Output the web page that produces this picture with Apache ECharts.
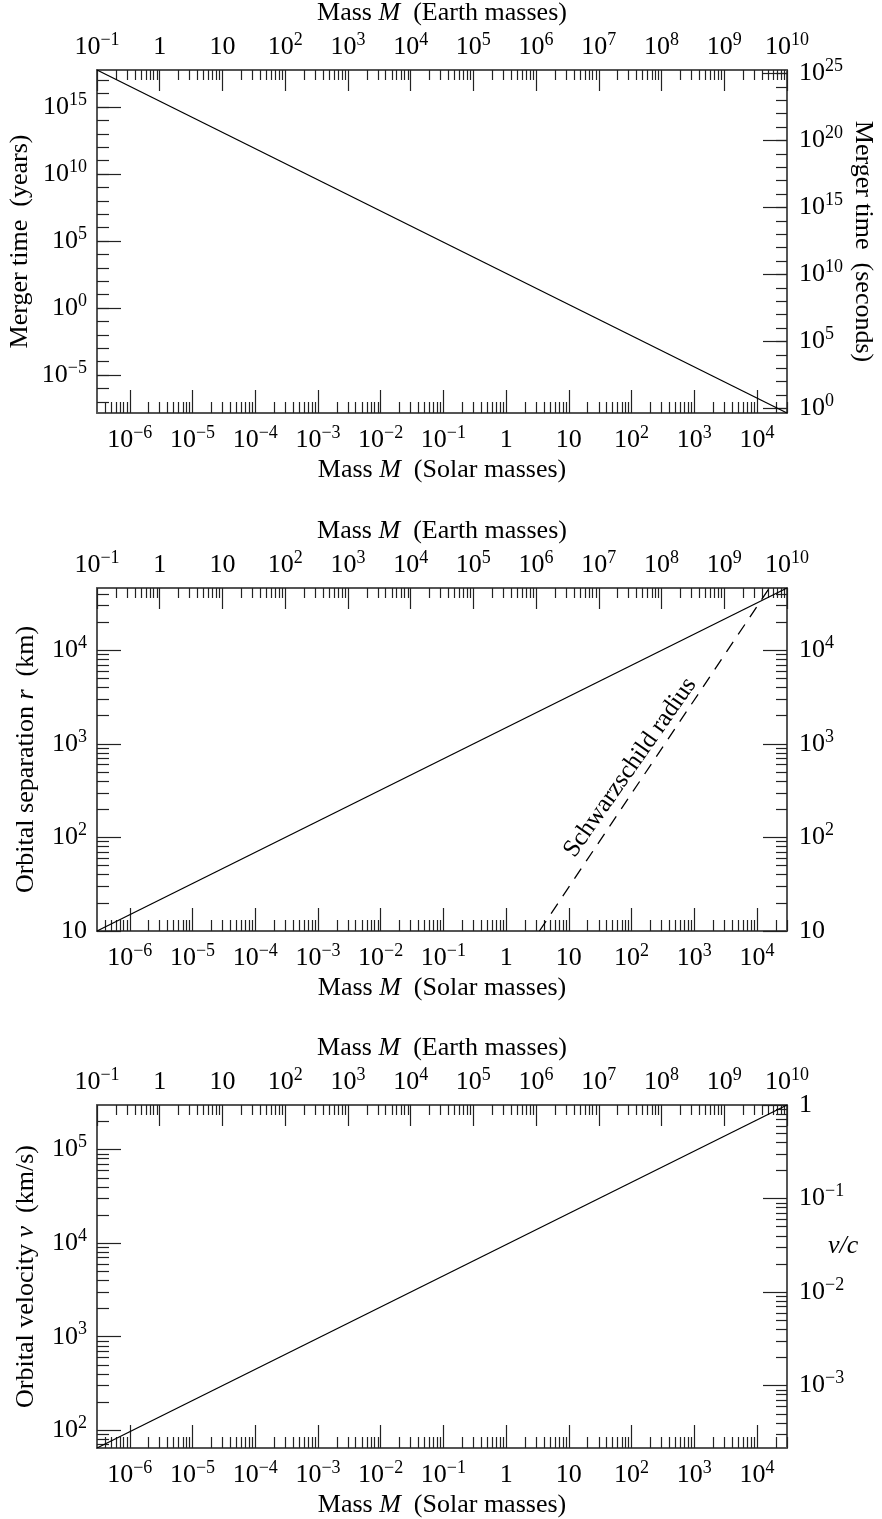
<!DOCTYPE html>
<html><head><meta charset="utf-8">
<script src="https://cdn.jsdelivr.net/npm/echarts@6/dist/echarts.min.js"></script>
<style>html,body{margin:0;padding:0;background:#fff}#c{width:882px;height:1519px}</style>
</head><body><div id="c"></div>
<script>
// ---- physical conversion constants ----
const EARTH_PER_SOLAR = 333000;
const SECONDS_PER_YEAR = 3.156e7;
const C_KM_S = 299792;

// ---- shared mass axis (Earth masses, top) ----
const massEarthRange = [0.1, 1e10];
const earthTickExp = [-1, 0, 1, 2, 3, 4, 5, 6, 7, 8, 9, 10];
const solarTickExp = [-6, -5, -4, -3, -2, -1, 0, 1, 2, 3, 4];

// ---- panel 1: merger time ----
const mergerMassEarth = [0.1, 1e10];
const mergerTimeYears = [5.75e17, 1.45e-8];
const mergerYearsRange = [1.45e-8, 5.75e17];
const yearsTickExp = [-5, 0, 5, 10, 15];
const secondsTickExp = [0, 5, 10, 15, 20, 25];

// ---- panel 2: orbital separation ----
const sepMassEarth = [0.1, 1e10];
const separationKm = [10, 4.64e4];
const separationRange = [10, 4.64e4];
const kmTickExp = [1, 2, 3, 4];
const schwMassSolar = [3.39, 15700];
const schwRadiusKm = [10, 4.64e4];
const schwLabelText = ['Schwarzschild radius'];
const schwLabelMassSolar = [95];
const schwLabelKm = [560];

// ---- panel 3: orbital velocity ----
const velMassEarth = [0.1, 1e10];
const velocityKmS = [64.6, 299792];
const velocityRange = [64.6, 299792];
const velTickExp = [2, 3, 4, 5];
const vcTickExp = [-3, -2, -1, 0];

// ---------------------------------------------------------------
const FONT = '"Liberation Serif","DejaVu Serif","Times New Roman",serif';
const lg = Math.log10;
const RICH = {
  b: {fontFamily: FONT, fontSize: 26, lineHeight: 32, color: '#000'},
  s: {fontFamily: FONT, fontSize: 18, lineHeight: 19, verticalAlign: 'top', color: '#000'}
};
const NAME_STYLE = {
  fontFamily: FONT, fontSize: 26, color: '#000',
  rich: {i: {fontFamily: FONT, fontSize: 26, fontStyle: 'italic', color: '#000'}}
};

function decadeMinors(lo, hi) {
  const out = [];
  for (let k = Math.floor(lo) - 1; k <= Math.ceil(hi); k++) {
    for (let m = 2; m <= 9; m++) {
      const v = k + lg(m);
      if (v > lo + 1e-6 && v < hi - 1e-6) out.push(v);
    }
  }
  return out;
}
function intMinors(lo, hi) {
  const out = [];
  for (let k = Math.ceil(lo); k <= Math.floor(hi); k++) out.push(k);
  return out;
}
function fmt(mode) {
  return function (v) {
    const k = Math.round(v);
    if (mode === 'plain') {
      if (k === 0) return '{b|1}';
      if (k === 1) return '{b|10}';
    }
    return '{b|10}{s|' + (k < 0 ? '\u2212' + (-k) : k) + '}';
  };
}

function axisPair(list, o) {
  list.push({
    type: 'value', gridIndex: o.grid, position: o.position, min: o.min, max: o.max,
    axisLine: {show: true, onZero: false, lineStyle: {color: '#555', width: 2}},
    axisTick: {show: true, inside: true, length: o.majorLen, customValues: o.majors,
      lineStyle: {color: '#222', width: 1.2}},
    axisLabel: {show: true, customValues: o.majors, formatter: fmt(o.mode), margin: o.margin,
      rich: RICH, color: '#000'},
    splitLine: {show: false}, minorTick: {show: false},
    name: o.name || '', nameLocation: 'middle', nameGap: o.nameGap || 0,
    nameMoveOverlap: false,
    nameRotate: o.nameRotate, nameTextStyle: Object.assign({}, NAME_STYLE, o.namePadding ? {padding: o.namePadding} : {})
  });
  const major = list.length - 1;
  list.push({
    type: 'value', gridIndex: o.grid, position: o.position, min: o.min, max: o.max,
    axisLine: {show: false, onZero: false},
    axisTick: {show: true, inside: true, length: o.minorLen, customValues: o.minors,
      lineStyle: {color: '#222', width: 1.2}},
    axisLabel: {show: false}, splitLine: {show: false}
  });
  return major;
}

const grids = [], xAxis = [], yAxis = [], series = [];
[70, 588, 1105].forEach(t => grids.push({left: 97, top: t, width: 690, height: 343,
  outerBoundsMode: 'none', containLabel: false}));

function buildX(g) {
  const eLo = lg(massEarthRange[0]), eHi = lg(massEarthRange[1]);
  const sLo = eLo - lg(EARTH_PER_SOLAR), sHi = eHi - lg(EARTH_PER_SOLAR);
  const top = axisPair(xAxis, {grid: g, position: 'top', min: eLo, max: eHi,
    majors: earthTickExp, minors: decadeMinors(eLo, eHi), mode: 'plain',
    name: 'Mass {i|M}  (Earth masses)', nameGap: 44, majorLen: 21, minorLen: 10, margin: 7});
  const bot = axisPair(xAxis, {grid: g, position: 'bottom', min: sLo, max: sHi,
    majors: solarTickExp, minors: decadeMinors(sLo, sHi), mode: 'plain',
    name: 'Mass {i|M}  (Solar masses)', nameGap: 44, majorLen: 23, minorLen: 11, margin: 11});
  return {top, bot};
}

const lineStyle = {color: '#000', width: 1.3};

// Panel 1
{
  const x = buildX(0);
  const lo = lg(mergerYearsRange[0]), hi = lg(mergerYearsRange[1]);
  const yl = axisPair(yAxis, {grid: 0, position: 'left', min: lo, max: hi,
    majors: yearsTickExp, minors: intMinors(lo, hi), mode: 'sup',
    name: 'Merger time  (years)', nameGap: 64, nameRotate: 90, majorLen: 24, minorLen: 12, margin: 10});
  const so = lg(SECONDS_PER_YEAR);
  axisPair(yAxis, {grid: 0, position: 'right', min: lo + so, max: hi + so,
    majors: secondsTickExp, minors: intMinors(lo + so, hi + so), mode: 'sup',
    name: 'Merger time  (seconds)', nameGap: 63, nameRotate: -90, majorLen: 24, minorLen: 11, margin: 12});
  series.push({type: 'line', xAxisIndex: x.top, yAxisIndex: yl, symbol: 'none', lineStyle,
    data: mergerMassEarth.map((m, i) => [lg(m), lg(mergerTimeYears[i])])});
}
// Panel 2
{
  const x = buildX(1);
  const lo = lg(separationRange[0]), hi = lg(separationRange[1]);
  const yl = axisPair(yAxis, {grid: 1, position: 'left', min: lo, max: hi,
    majors: kmTickExp, minors: decadeMinors(lo, hi), mode: 'plain',
    name: 'Orbital separation {i|r}  (km)', nameGap: 58, nameRotate: 90, majorLen: 24, minorLen: 12, margin: 10});
  axisPair(yAxis, {grid: 1, position: 'right', min: lo, max: hi,
    majors: kmTickExp, minors: decadeMinors(lo, hi), mode: 'plain',
    majorLen: 24, minorLen: 11, margin: 12});
  series.push({type: 'line', xAxisIndex: x.top, yAxisIndex: yl, symbol: 'none', lineStyle,
    data: sepMassEarth.map((m, i) => [lg(m), lg(separationKm[i])])});
  series.push({type: 'line', xAxisIndex: x.bot, yAxisIndex: yl, symbol: 'none',
    lineStyle: {color: '#000', width: 1.3, type: [12, 9]},
    data: schwMassSolar.map((m, i) => [lg(m), lg(schwRadiusKm[i])])});
  series.push({type: 'scatter', xAxisIndex: x.bot, yAxisIndex: yl, symbolSize: 2,
    itemStyle: {color: 'rgba(0,0,0,0)'}, silent: true, z: 5,
    label: {show: true, position: 'inside', rotate: 55, fontFamily: FONT, fontSize: 25,
      color: '#000', opacity: 1, textBorderWidth: 0, textBorderColor: 'transparent',
      formatter: p => schwLabelText[p.dataIndex]},
    data: schwLabelMassSolar.map((m, i) => [lg(m), lg(schwLabelKm[i])])});
}
// Panel 3
{
  const x = buildX(2);
  const lo = lg(velocityRange[0]), hi = lg(velocityRange[1]);
  const yl = axisPair(yAxis, {grid: 2, position: 'left', min: lo, max: hi,
    majors: velTickExp, minors: decadeMinors(lo, hi), mode: 'plain',
    name: 'Orbital velocity {i|v}  (km/s)', nameGap: 58, nameRotate: 90, majorLen: 24, minorLen: 12, margin: 10});
  const co = lg(C_KM_S);
  axisPair(yAxis, {grid: 2, position: 'right', min: lo - co, max: hi - co,
    majors: vcTickExp, minors: decadeMinors(lo - co, hi - co), mode: 'plain',
    name: '{i|v/c}', nameGap: 41, nameRotate: 0, namePadding: [0, 0, 60, 0],
    majorLen: 24, minorLen: 11, margin: 12});
  series.push({type: 'line', xAxisIndex: x.top, yAxisIndex: yl, symbol: 'none', lineStyle,
    data: velMassEarth.map((m, i) => [lg(m), lg(velocityKmS[i])])});
}

const chart = echarts.init(document.getElementById('c'), null, {renderer: 'canvas'});
chart.setOption({
  animation: false,
  backgroundColor: '#fff',
  grid: grids, xAxis, yAxis, series
});
</script></body></html>
